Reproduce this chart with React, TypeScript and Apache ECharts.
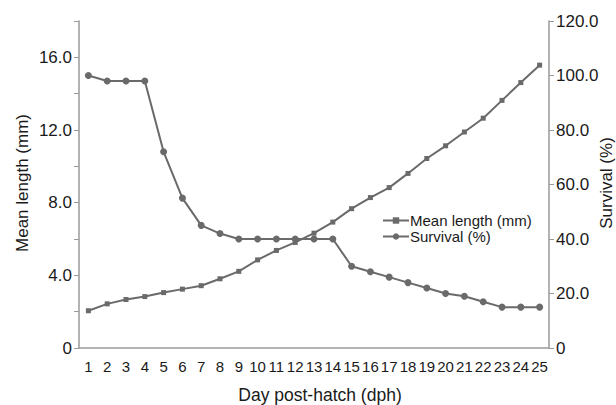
import React, { useEffect, useRef } from "react";
import * as echarts from "echarts";

const days = ["1","2","3","4","5","6","7","8","9","10","11","12","13","14","15","16","17","18","19","20","21","22","23","24","25"];
const meanLength = [2.05,2.43,2.67,2.83,3.05,3.24,3.43,3.81,4.22,4.85,5.37,5.81,6.32,6.93,7.67,8.28,8.83,9.61,10.43,11.13,11.89,12.65,13.63,14.61,15.57];
const survival = [100,98,98,98,72,55,45,42,40,40,40,40,40,40,30,28,26,24,22,20,19,17,15,15,15];

const FONT = "Liberation Sans, Arial, sans-serif";
const LINE = "#6a6a6a";
const AXIS = "#9a9a9a";
const TEXT = "#1a1a1a";

export default function App() {
  const ref = useRef<HTMLDivElement>(null);
  useEffect(() => {
    if (!ref.current) return;
    const chart = echarts.init(ref.current, undefined, { renderer: "svg" });
    chart.setOption({
      animation: false,
      backgroundColor: "#ffffff",
      textStyle: { fontFamily: FONT },
      grid: { left: 79, right: 67, top: 21, bottom: 57 },
      legend: {
        orient: "vertical",
        left: 377,
        top: 208,
        itemWidth: 26,
        itemHeight: 8,
        itemGap: 1,
        textStyle: { fontSize: 15, color: TEXT, fontFamily: FONT, padding: [0, 0, 0, -4] },
        data: ["Mean length (mm)", "Survival (%)"],
      },
      xAxis: {
        type: "category",
        data: days,
        boundaryGap: true,
        axisLine: { lineStyle: { color: AXIS, width: 1.5 } },
        axisTick: { length: 5, lineStyle: { color: AXIS } },
        axisLabel: { interval: 0, fontSize: 15, color: TEXT, margin: 11, fontFamily: FONT },
        splitLine: { show: false },
      },
      yAxis: [
        {
          type: "value",
          min: 0,
          max: 18,
          interval: 2,
          position: "left",
          axisLine: { show: true, lineStyle: { color: AXIS, width: 1.5 } },
          axisTick: { show: true, length: 5, lineStyle: { color: AXIS } },
          axisLabel: {
            fontSize: 17,
            color: TEXT,
            margin: 7,
            fontFamily: FONT,
            formatter: (v: number) => (v % 4 === 0 ? (v === 0 ? "0" : v.toFixed(1)) : ""),
          },
          splitLine: { show: false },
        },
        {
          type: "value",
          min: 0,
          max: 120,
          interval: 20,
          position: "right",
          axisLine: { show: true, lineStyle: { color: AXIS, width: 1.5 } },
          axisTick: { show: true, length: 5, lineStyle: { color: AXIS } },
          axisLabel: {
            fontSize: 17,
            color: TEXT,
            margin: 7,
            fontFamily: FONT,
            formatter: (v: number) => (v === 0 ? "0" : v.toFixed(1)),
          },
          splitLine: { show: false },
        },
      ],
      graphic: [
        {
          type: "text",
          x: 22,
          y: 183,
          rotation: Math.PI / 2,
          style: { text: "Mean length (mm)", font: `17px ${FONT}`, fill: TEXT, textAlign: "center", textVerticalAlign: "middle" },
        },
        {
          type: "text",
          x: 606,
          y: 183,
          rotation: Math.PI / 2,
          style: { text: "Survival (%)", font: `17px ${FONT}`, fill: TEXT, textAlign: "center", textVerticalAlign: "middle" },
        },
        {
          type: "text",
          x: 320,
          y: 395,
          style: { text: "Day post-hatch (dph)", font: `17.5px ${FONT}`, fill: TEXT, textAlign: "center", textVerticalAlign: "middle" },
        },
      ],
      series: [
        {
          name: "Mean length (mm)",
          type: "line",
          yAxisIndex: 0,
          data: meanLength,
          symbol: "rect",
          symbolSize: 5,
          lineStyle: { color: LINE, width: 2 },
          itemStyle: { color: LINE },
        },
        {
          name: "Survival (%)",
          type: "line",
          yAxisIndex: 1,
          data: survival,
          symbol: "circle",
          symbolSize: 7,
          lineStyle: { color: LINE, width: 2 },
          itemStyle: { color: LINE },
        },
      ],
    });
    return () => chart.dispose();
  }, []);
  return <div ref={ref} style={{ width: 616, height: 405, position: "absolute", left: 0, top: 0 }} />;
}
